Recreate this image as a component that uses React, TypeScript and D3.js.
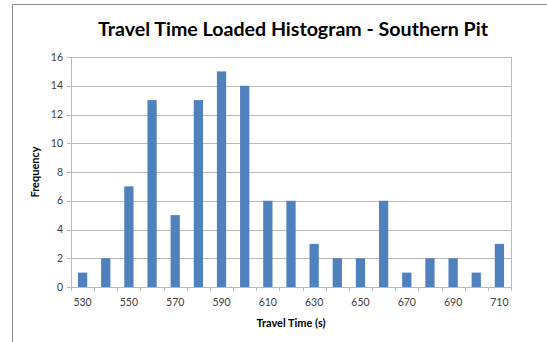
import React from "react";
import * as d3 from "d3";

const categories = [530, 540, 550, 560, 570, 580, 590, 600, 610, 620, 630, 640, 650, 660, 670, 680, 690, 700, 710];
const frequencies = [1, 2, 7, 13, 5, 13, 15, 14, 6, 6, 3, 2, 2, 6, 1, 2, 2, 1, 3];
const yTicks = [0, 2, 4, 6, 8, 10, 12, 14, 16];
const title = "Travel Time Loaded Histogram - Southern Pit";
const xTitle = "Travel Time (s)";
const yTitle = "Frequency";

export default function App() {
  const W = 547, H = 342;
  const left = 71, right = 511, top = 57, bottom = 287;
  const x = d3.scaleBand<number>().domain(categories).range([left, right]).paddingInner(0.6).paddingOuter(0.3);
  const xb = d3.scaleBand<number>().domain(categories).range([left, right]);
  const y = d3.scaleLinear().domain([0, 16]).range([bottom, top]);
  const font = "Lato, 'Open Sans', 'Liberation Sans', sans-serif";
  const grid = "#b9b9b9";
  return (
    <svg width={W} height={H} style={{ position: "absolute", left: 0, top: 0, background: "#fff" }} fontFamily={font}>
      <rect x={0} y={0} width={W} height={H} fill="#fff" />
      <line x1={12.5} y1={4.5} x2={W} y2={4.5} stroke="#8c8c8c" />
      <line x1={12.5} y1={4.5} x2={12.5} y2={H} stroke="#8c8c8c" />
      <text x={293} y={36} textAnchor="middle" fontSize={19} fontWeight="bold" fill="#000" textLength={390} lengthAdjust="spacingAndGlyphs">{title}</text>
      {yTicks.map((t) => (
        <g key={t}>
          <line x1={left - 4} x2={right} y1={Math.round(y(t)) + 0.5} y2={Math.round(y(t)) + 0.5} stroke={grid} />
          <text x={left - 8} y={y(t)} dy="0.35em" textAnchor="end" fontSize={10.5} fill="#404040">{t}</text>
        </g>
      ))}
      <line x1={left + 0.5} x2={left + 0.5} y1={top} y2={bottom + 4} stroke={grid} />
      <line x1={right + 0.5} x2={right + 0.5} y1={top} y2={bottom} stroke={grid} />
      {categories.map((c) => (
        <line key={"t" + c} x1={Math.round(xb(c)! + xb.bandwidth()) + 0.5} x2={Math.round(xb(c)! + xb.bandwidth()) + 0.5} y1={bottom} y2={bottom + 4} stroke={grid} />
      ))}
      {categories.map((c, i) => (
        <rect key={c} x={x(c)!} y={y(frequencies[i])} width={x.bandwidth()} height={bottom - y(frequencies[i])} fill="#4f81bd" />
      ))}
      {categories.map((c, i) => i % 2 === 0 ? (
        <text key={"l" + c} x={xb(c)! + xb.bandwidth() / 2} y={306} textAnchor="middle" fontSize={10.5} fill="#404040">{c}</text>
      ) : null)}
      <text x={291} y={327} textAnchor="middle" fontSize={11} fontWeight="bold" fill="#000">{xTitle}</text>
      <text transform={`translate(39,${(top + bottom) / 2}) rotate(-90)`} textAnchor="middle" fontSize={11} fontWeight="bold" fill="#000">{yTitle}</text>
    </svg>
  );
}
